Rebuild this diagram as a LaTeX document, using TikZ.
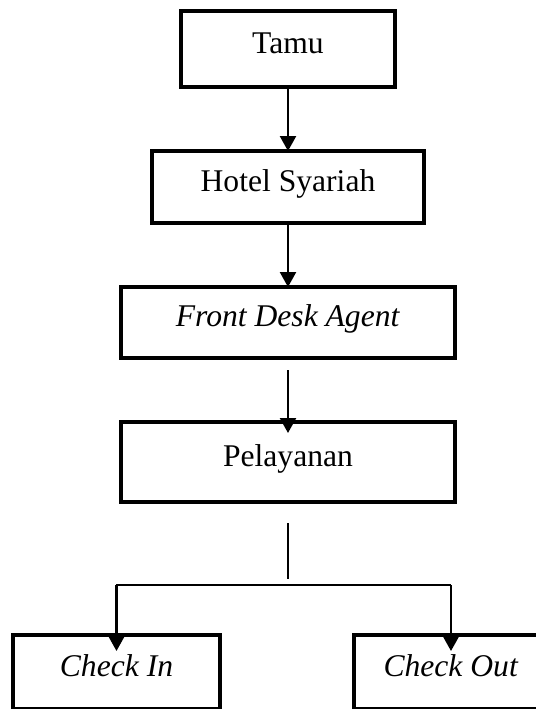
\documentclass[tikz,border=0pt]{standalone}
\usepackage{fontspec}
\setmainfont{Liberation Serif}
\usetikzlibrary{arrows.meta,positioning}

\begin{document}
\begin{tikzpicture}[
    node distance=32pt,
    box/.style={rectangle, draw, line width=2pt, outer sep=0pt, inner sep=0pt, text centered, font=\fontsize{15.8}{19}\selectfont, text height=11pt, text depth=7pt},
    thinbox/.style={box, line width=1.6pt},
    arrow/.style={-{Triangle[width=8pt,length=7.5pt]}, line width=1.2pt},
    link/.style={line width=1pt}
]
\useasboundingbox (-144pt,-330pt) rectangle (124pt,24.5pt);
\clip (-144pt,-330pt) rectangle (124pt,24.5pt);
\node[box, minimum width=107pt, minimum height=38pt] (tamu) {Tamu};
\node[box, below=of tamu, minimum width=136pt, minimum height=36pt] (hotel) {Hotel Syariah};
\node[thinbox, below=of hotel, minimum width=167pt, minimum height=35.5pt] (fda) {\textit{Front Desk Agent}};
\node[thinbox, below=of fda, minimum width=167pt, minimum height=40pt] (pel) {Pelayanan};
\node[thinbox, below=66.5pt of pel, xshift=-85.75pt, minimum width=103.5pt, minimum height=37pt] (cin) {\textit{Check In}};
\node[thinbox, below=66.5pt of pel, xshift=81.5pt, minimum width=97pt, minimum height=37pt] (cout) {\textit{Check Out}};
% cabang pelayanan
\coordinate[below=10.5pt of pel] (stem);
\coordinate[below=41.5pt of pel] (fork);
\draw[arrow] (tamu) -- (hotel);
\draw[arrow] (hotel) -- (fda);
\draw[arrow] ([yshift=-6pt]fda.south) -- ([yshift=-5.5pt]pel.north);
\draw[link] (stem) -- ([yshift=3pt]fork);
\draw[link] (cin |- fork) -- (cout |- fork);
\draw[arrow] (cin |- fork) -- ([yshift=-8pt]cin.north);
\draw[arrow] (cout |- fork) -- ([yshift=-8pt]cout.north);
\end{tikzpicture}
\end{document}
